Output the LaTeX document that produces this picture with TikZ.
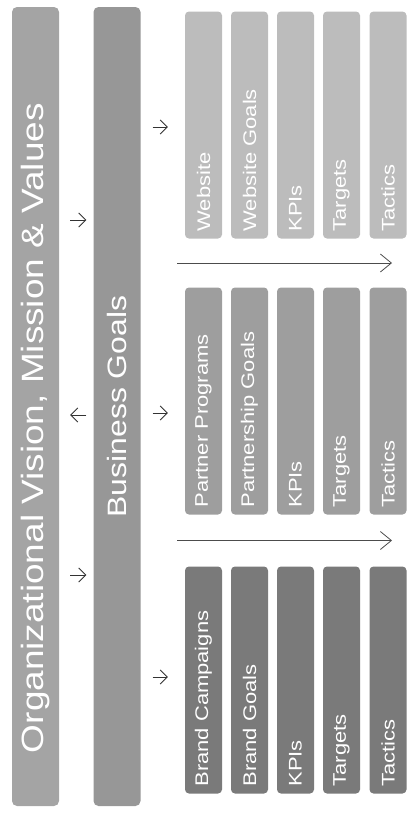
\documentclass[tikz,border=0pt]{standalone}
\usepackage{fontspec}
\setmainfont{Liberation Sans}[FakeStretch=1.2]
\usetikzlibrary{positioning,arrows.meta,calc}

\definecolor{orgfill}{HTML}{A4A4A4}
\definecolor{bizfill}{HTML}{979797}
\definecolor{brandfill}{HTML}{7A7A7A}
\definecolor{partfill}{HTML}{9E9E9E}
\definecolor{webfill}{HTML}{BCBCBC}

\begin{document}
\begin{tikzpicture}[
  x=1pt, y=1pt,
  >={Straight Barb[length=7pt,width=14pt]},
  bar/.style={rotate=90, rounded corners=5pt, text=white, inner sep=0pt,
              minimum width=799pt, minimum height=47pt},
  cell/.style={rotate=90, rounded corners=4pt, text=white, align=left,
               minimum height=37pt, text width=213pt, inner xsep=7pt,
               font=\fontsize{18.3}{22}\selectfont},
  ar/.style={->, draw=black!80, line width=0.8pt},
  longar/.style={-{Straight Barb[length=11pt,width=18pt]}, draw=black!70,
                 line width=0.8pt},
]
  \useasboundingbox (0,0) rectangle (417,-825);

  % top bars
  \node[bar, fill=orgfill, align=left, text width=693pt, inner xsep=53pt,
        font=\fontsize{30.8}{36}\selectfont] (org) at (35.5,-406.5)
        {Organizational Vision, Mission \& Values};
  \node[bar, fill=bizfill, font=\fontsize{26.6}{32}\selectfont] (biz) at (117,-406.5)
        {Business Goals};

  % website
  \node[cell, fill=webfill] (web1) at (203.5,-125) {Website};
  \node[cell, fill=webfill] (web2) at (249.5,-125) {Website Goals};
  \node[cell, fill=webfill] (web3) at (295.5,-125) {KPIs};
  \node[cell, fill=webfill] (web4) at (341.5,-125) {Targets};
  \node[cell, fill=webfill] (web5) at (388,-125) {Tactics};

  % partners
  \node[cell, fill=partfill] (par1) at (203.5,-401) {Partner Programs};
  \node[cell, fill=partfill] (par2) at (249.5,-401) {Partnership Goals};
  \node[cell, fill=partfill] (par3) at (295.5,-401) {KPIs};
  \node[cell, fill=partfill] (par4) at (341.5,-401) {Targets};
  \node[cell, fill=partfill] (par5) at (388,-401) {Tactics};

  % brand
  \node[cell, fill=brandfill] (bra1) at (203.5,-680) {Brand Campaigns};
  \node[cell, fill=brandfill] (bra2) at (249.5,-680) {Brand Goals};
  \node[cell, fill=brandfill] (bra3) at (295.5,-680) {KPIs};
  \node[cell, fill=brandfill] (bra4) at (341.5,-680) {Targets};
  \node[cell, fill=brandfill] (bra5) at (388,-680) {Tactics};

  % between the bars
  \draw[ar, shorten <=11pt, shorten >=7pt]
    ([yshift=186.5pt]org.south) -- ([yshift=186.5pt]biz.north);
  \draw[ar, shorten <=7pt, shorten >=11pt]
    ([yshift=-8.5pt]biz.north) -- ([yshift=-8.5pt]org.south);
  \draw[ar, shorten <=11pt, shorten >=7pt]
    ([yshift=-168.5pt]org.south) -- ([yshift=-168.5pt]biz.north);

  % goals to groups
  \draw[ar, shorten <=12pt, shorten >=17pt]
    ([yshift=-2pt]biz.south |- web1) -- ([yshift=-2pt]web1.north);
  \draw[ar, shorten <=12pt, shorten >=17pt]
    ([yshift=-12pt]biz.south |- par1) -- ([yshift=-12pt]par1.north);
  \draw[ar, shorten <=12pt, shorten >=17pt]
    ([yshift=3pt]biz.south |- bra1) -- ([yshift=3pt]bra1.north);

  % long arrows
  \draw[longar] ([xshift=-26.5pt]$(web1.west)!.5!(par1.east)$)
             -- ([xshift=4pt]$(web5.west)!.5!(par5.east)$);
  \draw[longar] ([xshift=-26.5pt]$(par1.west)!.5!(bra1.east)$)
             -- ([xshift=4pt]$(par5.west)!.5!(bra5.east)$);
\end{tikzpicture}
\end{document}
